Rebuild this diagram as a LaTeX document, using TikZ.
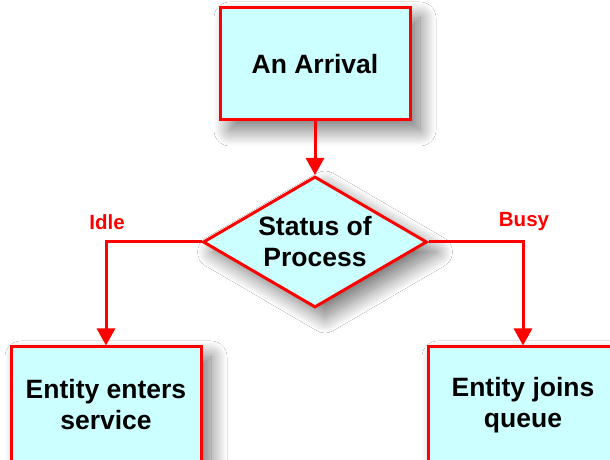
\documentclass[tikz,border=0pt]{standalone}
\usepackage{fontspec}
\setmainfont{Liberation Sans}
\usetikzlibrary{shapes.geometric,arrows.meta,shadows.blur}
\definecolor{boxfill}{HTML}{CCFFFF}
\definecolor{flowred}{HTML}{FF0000}
\begin{document}
\begin{tikzpicture}[x=1pt,y=1pt,
  softshadow/.style={blur shadow={shadow xshift=10pt,shadow yshift=-10pt,
      shadow blur radius=16pt,shadow blur steps=24,shadow opacity=55}},
  procbox/.style={draw=flowred,line width=3pt,fill=boxfill,softshadow,
      inner sep=0pt,align=center,font=\bfseries\fontsize{26.5}{31}\selectfont},
  decision/.style={diamond,draw=flowred,line width=3pt,fill=boxfill,softshadow,
      inner sep=0pt,minimum width=224pt,minimum height=131pt,aspect=1.71,
      align=center,font=\bfseries\fontsize{26.5}{31}\selectfont},
  flow/.style={draw=flowred,line width=3pt,-{Triangle[width=18pt,length=17pt]}},
  branchlabel/.style={text=flowred,font=\bfseries\fontsize{20.5}{24}\selectfont}]
  \clip (0,0) rectangle (610,460);
  \fill[white] (0,0) rectangle (610,460);

  % process boxes and the decision
  \node[procbox,minimum width=190pt,minimum height=112pt] (arrival) at (315,396) {An Arrival};
  \node[decision] (status) at (315,218) {Status of\\Process};
  \node[procbox,minimum width=190pt,minimum height=116pt] (service) at (106,55)
      {Entity enters\\service};
  \node[procbox,minimum width=190pt,minimum height=116pt] (queue) at (523,55)
      {Entity joins\\queue};

  % connectors
  \draw[flow] (arrival.south) -- (status.north);
  \draw[flow] (status.west) -| (service.north);
  \draw[flow] (status.east) -| (queue.north);

  % branch labels
  \node[branchlabel] (idle) at (107,238) {Idle};
  \node[branchlabel] (busy) at (524,238) {Busy};
\end{tikzpicture}
\end{document}
